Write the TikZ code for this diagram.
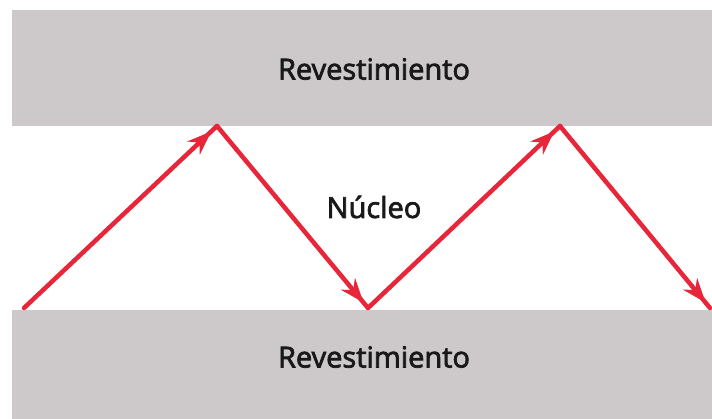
\documentclass[tikz,border=0pt]{standalone}
\usepackage{fontspec}
\setmainfont{Open Sans}
\newfontfamily\rotulo{Open Sans}[FakeBold=2.5]
\usetikzlibrary{arrows.meta,decorations.markings}
\definecolor{capa}{RGB}{205,201,203}
\definecolor{rayo}{RGB}{231,38,58}

\begin{document}
\begin{tikzpicture}[x=1pt, y=-1pt,
    every node/.style={font=\rotulo\fontsize{29}{32}\selectfont, text=black!90},
    revestimiento/.style={fill=capa, draw=none},
    haz/.style={rayo, line width=4.5pt, line cap=round,
      decoration={markings, mark=at position 0.97 with {\arrow{Stealth[length=24pt,width=18pt]}}},
      postaction={decorate}}]
  \useasboundingbox (0,0) rectangle (712,419);
  \fill[revestimiento] (12,10) rectangle (712,126);
  \fill[revestimiento] (12,310) rectangle (712,419);
  \node (arriba) at (374,69) {Revestimiento};
  \node (abajo) at (374,357) {Revestimiento};
  \node (nucleo) at (374,207) {Núcleo};
  \coordinate (p0) at (24,308);
  \coordinate (p1) at (217,126);
  \coordinate (p2) at (368,308);
  \coordinate (p3) at (560,126);
  \coordinate (p4) at (710,308);
  \draw[haz] (p0) -- (p1);
  \draw[haz] (p1) -- (p2);
  \draw[haz] (p2) -- (p3);
  \draw[haz] (p3) -- (p4);
\end{tikzpicture}
\end{document}
